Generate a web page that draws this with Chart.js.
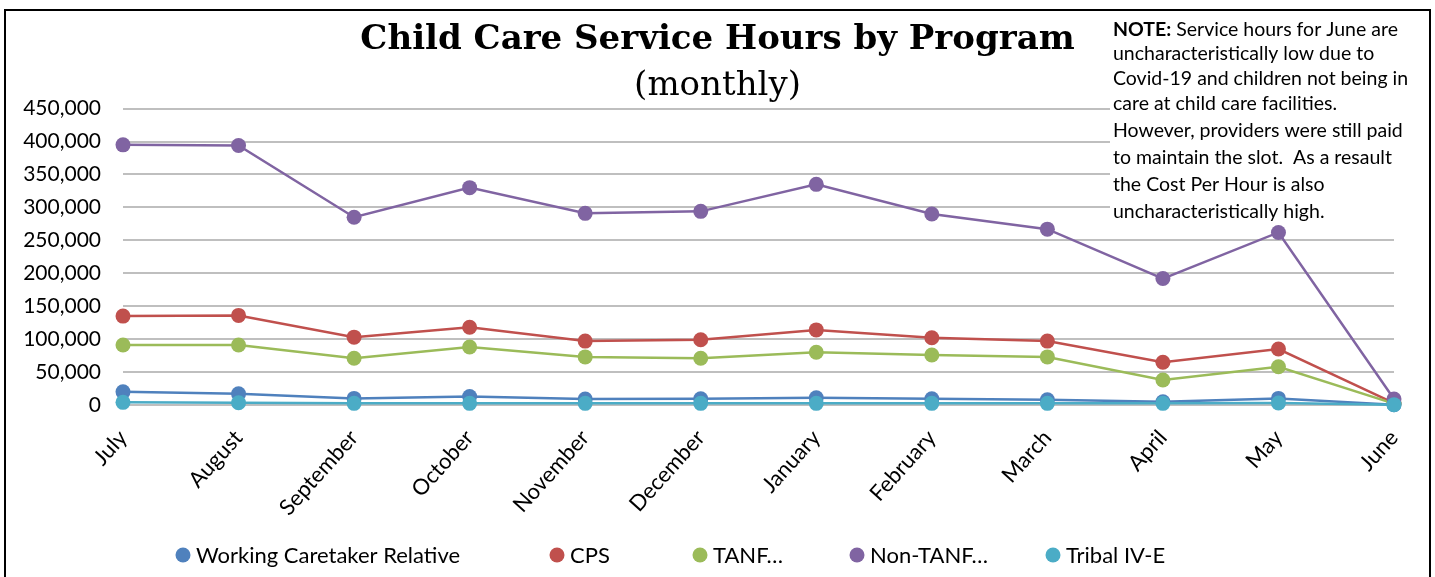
<!DOCTYPE html>
<html>
<head>
<meta charset="utf-8">
<script src="https://cdn.jsdelivr.net/npm/chart.js@4/dist/chart.umd.min.js"></script>
<style>
  html, body { margin: 0; padding: 0; background: #fff; }
  #wrap { width: 1435px; height: 577px; position: relative; }
</style>
</head>
<body>
<div id="wrap"><canvas id="c" width="1435" height="577"></canvas></div>
<script>
const months = ['July','August','September','October','November','December','January','February','March','April','May','June'];
const workingCaretaker = [20000,17000,10000,13000,9000,9500,11000,9500,8000,5000,10000,500];
const cps = [135000,136000,103000,118000,97000,99000,114000,102000,97000,65000,85000,3000];
const tanf = [91000,91000,71000,88000,73000,71000,80000,76000,73000,38000,58000,2000];
const nonTanf = [395000,394000,285000,330000,291000,294000,335000,290000,267000,192000,262000,9000];
const tribal = [4000,3500,2500,2500,2500,2500,2500,2500,2500,2500,3000,500];
const seriesNames = ['Working Caretaker Relative','CPS','TANF…','Non-TANF…','Tribal IV-E'];
const seriesColors = ['#4F81BD','#C0504D','#9BBB59','#8064A2','#4BACC6'];
const yTicks = [0,50000,100000,150000,200000,250000,300000,350000,400000,450000];
const titleText = 'Child Care Service Hours by Program';
const subtitleText = '(monthly)';
const noteLines = [
  ['NOTE:', ' Service hours for June are'],
  ['', 'uncharacteristically low due to'],
  ['', 'Covid-19 and children not being in'],
  ['', 'care at child care facilities.'],
  ['', 'However, providers were still paid'],
  ['', 'to maintain the slot.  As a resault'],
  ['', 'the Cost Per Hour is also'],
  ['', 'uncharacteristically high.']
];

const seriesData = [workingCaretaker, cps, tanf, nonTanf, tribal];
const datasets = seriesData.map((d, i) => ({
  label: seriesNames[i],
  data: d,
  yAxisID: 'y',
  clip: false,
  borderColor: seriesColors[i],
  backgroundColor: seriesColors[i],
  pointBackgroundColor: seriesColors[i],
  pointBorderColor: seriesColors[i],
  pointBorderWidth: 0,
  pointRadius: 7.5,
  pointHoverRadius: 7.5,
  borderWidth: 2.5,
  tension: 0,
  order: seriesData.length - i
}));

const FONT = 'Lato, "Open Sans", sans-serif';

const noteBox = {
  id: 'noteBox',
  beforeDatasetsDraw(chart) {
    const ctx = chart.ctx;
    ctx.save();
    ctx.fillStyle = '#ffffff';
    ctx.fillRect(1110, 14, 316, 212);
    ctx.fillStyle = '#000';
    ctx.textBaseline = 'middle';
    ctx.textAlign = 'left';
    const ys = [30, 54, 79, 104, 131, 158, 185, 212];
    noteLines.forEach((ln, i) => {
      let x = 1113;
      if (ln[0]) {
        ctx.font = 'bold 19.5px ' + FONT;
        ctx.fillText(ln[0], x, ys[i]);
        x += ctx.measureText(ln[0]).width;
      }
      ctx.font = '19.5px ' + FONT;
      ctx.fillText(ln[1], x, ys[i]);
    });
    ctx.restore();
  }
};

const decor = {
  id: 'decor',
  afterDraw(chart) {
    const ctx = chart.ctx;
    ctx.save();
    ctx.textBaseline = 'middle';
    ctx.textAlign = 'left';
    // legend
    const lx = [183, 557, 700, 857, 1053];
    ctx.font = '22px ' + FONT;
    seriesNames.forEach((n, i) => {
      ctx.fillStyle = seriesColors[i];
      ctx.beginPath();
      ctx.arc(lx[i], 555, 7.5, 0, Math.PI * 2);
      ctx.fill();
      ctx.fillStyle = '#000';
      ctx.fillText(n, lx[i] + 13, 556);
    });
    // outer border
    ctx.strokeStyle = '#000';
    ctx.lineWidth = 2;
    ctx.strokeRect(5, 10, 1425, 600);
    ctx.restore();
  }
};

new Chart(document.getElementById('c'), {
  type: 'line',
  data: { labels: months, datasets },
  plugins: [noteBox, decor],
  options: {
    responsive: false,
    animation: false,
    layout: { padding: { left: 0, right: 0, top: 0, bottom: 60 } },
    plugins: {
      legend: { display: false },
      tooltip: { enabled: false },
      title: {
        display: true,
        text: titleText,
        color: '#000',
        font: { family: '"DejaVu Serif", serif', weight: 'bold', size: 34 },
        padding: { top: 20, bottom: 0 }
      },
      subtitle: {
        display: true,
        text: subtitleText,
        color: '#000',
        font: { family: '"DejaVu Serif", serif', weight: 'normal', size: 34 },
        padding: { top: 5, bottom: 2 }
      }
    },
    scales: {
      x: {
        grid: { display: false, drawTicks: false },
        border: { display: false },
        ticks: {
          color: '#000',
          font: { family: FONT, size: 22 },
          minRotation: 48,
          maxRotation: 48,
          padding: 20,
          autoSkip: false
        },
        afterFit(scale) { scale.height = 112; }
      },
      y: {
        position: 'left',
        min: 0,
        max: 450000,
        afterBuildTicks(scale) { scale.ticks = yTicks.map(v => ({ value: v })); },
        grid: { color: '#BFBFBF', lineWidth: 2, drawTicks: false },
        border: { display: false },
        ticks: {
          color: '#000',
          font: { family: FONT, size: 21 },
          padding: 22,
          callback: v => v.toLocaleString('en-US')
        },
        afterFit(scale) { scale.width = 123; }
      },
      yRight: {
        position: 'right',
        display: true,
        grid: { display: false, drawTicks: false },
        border: { display: false },
        ticks: { display: false },
        afterFit(scale) { scale.width = 41; }
      }
    }
  }
});
</script>
</body>
</html>
